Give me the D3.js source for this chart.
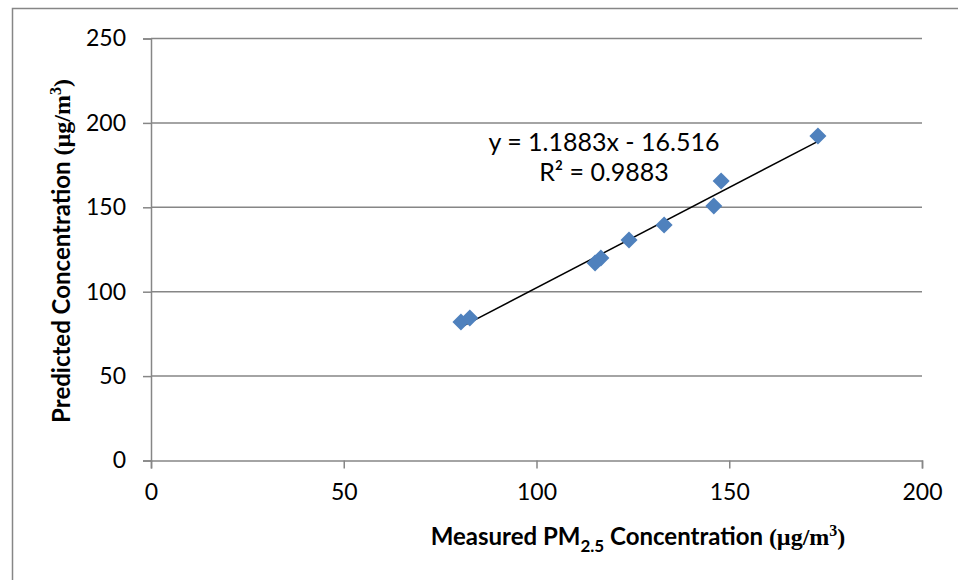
<!doctype html>
<html>
<head>
<meta charset="utf-8">
<title>Measured vs predicted PM2.5</title>
<script src="https://cdn.jsdelivr.net/npm/d3@7"></script>
<style>
  body { margin: 0; background: #fff; }
  text { font-family: Lato, "Open Sans", sans-serif; }
</style>
</head>
<body>
<div id="chart"></div>
<script>
// data
const measured  = [80.4, 82.7, 115.2, 116.7, 124.0, 133.1, 146.0, 147.9, 173.0];
const predicted = [82.0, 84.4, 117.0, 120.0, 130.6, 139.5, 150.8, 165.6, 192.2];
const xTicks = [0, 50, 100, 150, 200];
const yTicks = [0, 50, 100, 150, 200, 250];
const slope = 1.1883, intercept = -16.516;
const eqLines = ["y = 1.1883x - 16.516", "R\u00b2 = 0.9883"];

const W = 958, H = 580;
const margin = {top: 38.5, right: 36, bottom: 119.5, left: 151};
const width = W - margin.left - margin.right;
const height = H - margin.top - margin.bottom;

const svg = d3.select("#chart").append("svg")
    .attr("width", W).attr("height", H);

// outer chart border (runs off right and bottom)
svg.append("rect")
    .attr("x", 12.5).attr("y", 8.5)
    .attr("width", W).attr("height", H)
    .attr("fill", "none").attr("stroke", "#868686").attr("stroke-width", 1.5);

const g = svg.append("g")
    .attr("transform", `translate(${margin.left},${margin.top})`);

const x = d3.scaleLinear().domain([0, 200]).range([0, width]);
const y = d3.scaleLinear().domain([0, 250]).range([height, 0]);

// gridlines
g.append("g").selectAll("line").data(yTicks.slice(1)).join("line")
    .attr("x1", 0).attr("x2", width)
    .attr("y1", d => y(d)).attr("y2", d => y(d))
    .attr("stroke", "#868686").attr("stroke-width", 1.5);

// axes
const yAxis = g.append("g")
    .call(d3.axisLeft(y).tickValues(yTicks).tickSize(8).tickPadding(17));
const xAxis = g.append("g")
    .attr("transform", `translate(0,${height})`)
    .call(d3.axisBottom(x).tickValues(xTicks).tickSize(8).tickPadding(15));

[xAxis, yAxis].forEach(a => {
  a.select(".domain").attr("stroke", "#868686").attr("stroke-width", 1.5);
  a.selectAll(".tick line").attr("stroke", "#868686").attr("stroke-width", 1.5);
  a.selectAll(".tick text").attr("fill", "#000")
      .style("font-family", "Lato, sans-serif").style("font-size", "23px");
});

// trendline
const xMin = d3.min(measured), xMax = d3.max(measured);
g.append("line")
    .attr("x1", x(xMin)).attr("y1", y(slope * xMin + intercept))
    .attr("x2", x(xMax)).attr("y2", y(slope * xMax + intercept))
    .attr("stroke", "#000").attr("stroke-width", 1.5);

// markers
const diamond = d3.symbol().type(d3.symbolDiamond2).size(185);
g.selectAll("path.pt").data(measured).join("path")
    .attr("class", "pt")
    .attr("transform", (d, i) => `translate(${x(d)},${y(predicted[i])})`)
    .attr("d", diamond)
    .attr("fill", "#4F81BD");

// equation label
g.append("text")
    .attr("y", 151 - margin.top)
    .attr("text-anchor", "middle").style("font-size", "25px")
    .selectAll("tspan").data(eqLines).join("tspan")
    .attr("x", 604 - margin.left).attr("dy", (d, i) => i ? 30 : 0)
    .text(d => d);

// axis titles
const serif = "'Liberation Serif', serif";
const xt = svg.append("text")
    .attr("x", 638).attr("y", 545)
    .attr("text-anchor", "middle")
    .style("font-size", "24px").style("font-weight", "bold");
xt.append("tspan").text("Measured PM");
xt.append("tspan").attr("dy", 7).style("font-size", "17px").text("2.5");
xt.append("tspan").attr("dy", -7).text(" Concentration ");
xt.append("tspan").style("font-family", serif).text("(\u00b5g/m");
xt.append("tspan").attr("dy", -9).style("font-family", serif).style("font-size", "16px").text("3");
xt.append("tspan").attr("dy", 9).style("font-family", serif).text(")");

const yt = svg.append("text")
    .attr("transform", "translate(70,251) rotate(-90)")
    .attr("text-anchor", "middle")
    .style("font-size", "24px").style("font-weight", "bold");
yt.append("tspan").text("Predicted Concentration ");
yt.append("tspan").style("font-family", serif).text("(\u00b5g/m");
yt.append("tspan").attr("dy", -9).style("font-family", serif).style("font-size", "16px").text("3");
yt.append("tspan").attr("dy", 9).style("font-family", serif).text(")");
</script>
</body>
</html>
